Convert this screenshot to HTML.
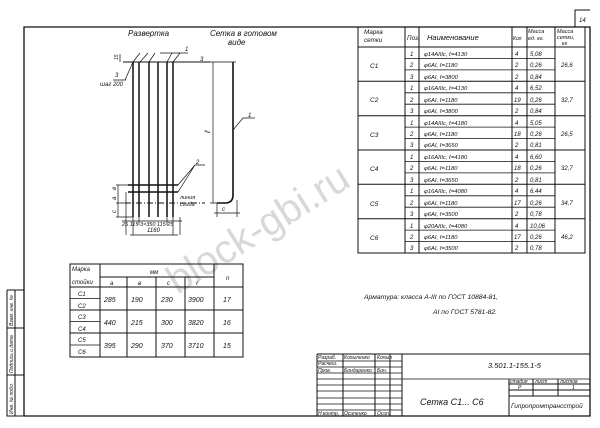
<!DOCTYPE html>
<html><head><meta charset="utf-8"><style>
html,body{margin:0;padding:0;background:#fff;}
svg{display:block;}
text{font-family:"Liberation Sans",sans-serif;font-style:italic;fill:#111;}
</style></head><body>
<svg width="600" height="428" viewBox="0 0 600 428" xmlns="http://www.w3.org/2000/svg">
<rect width="600" height="428" fill="#fff"/>
<!-- watermark -->
<text x="265" y="240" font-size="40" transform="rotate(-32 265 240)" text-anchor="middle" style="fill:#d8d8d8;font-style:normal">block-gbi.ru</text>
<g stroke="#111" fill="none" stroke-width="1">
<!-- frame -->
<path d="M24 27 H590 V416 H24 Z" stroke-width="1.3"/>
<path d="M575 27 V10 H590"/>
<path d="M7 290 H24 M7 290 V416 H24 M15 290 V416 M7 328 H24 M7 375 H24"/>
<!-- main table -->
<path d="M358 27 V253 H585 V27"/>
<path d="M405 27 V253 M419 27 V253 M512 27 V253 M527 27 V253 M555 27 V253"/>
<path d="M358 47 H585"/>
<g stroke-width="0.8">
<path d="M405 58.4 H555 M405 69.9 H555 M405 92.8 H555 M405 104.2 H555 M405 127.1 H555 M405 138.6 H555 M405 161.4 H555 M405 172.9 H555 M405 195.8 H555 M405 207.2 H555 M405 230.1 H555 M405 241.6 H555"/>
</g>
<path d="M358 81.3 H585 M358 115.7 H585 M358 150 H585 M358 184.3 H585 M358 218.7 H585"/>
<!-- lower left table -->
<path d="M70 264 H243 V357 H70 Z"/>
<path d="M100 264 V357 M214 264 V357 M127 277 V357 M156 277 V357 M185 277 V357"/>
<path d="M100 277 H214 M70 287 H243 M70 310 H243 M70 333 H243"/>
<path d="M70 298.5 H100 M70 321.5 H100 M70 345 H100" stroke-width="0.8"/>
<!-- title block -->
<path d="M317 354 H590 M317 354 V416"/>
<path d="M343 354 V416 M375 354 V416 M390 354 V416 M402 354 V416"/>
<path d="M317 361 H402 M317 367 H402 M317 373 H402 M317 379 H590 M317 385 H402 M317 391 H402 M317 398 H402 M317 404 H402 M317 410 H402" stroke-width="0.7"/>
<path d="M509 379 V416 M509 384 H590 M509 390 H590 M509 396 H590 M533 379 V396 M558 379 V396"/>
<!-- drawing: razvertka -->
<path d="M133 62 V217 M139 62 V217 M149 62 V217 M158 62 V217 M167 62 V217 M173 62 V217" stroke-width="1.5"/>
<path d="M123 62 H210"/>
<path d="M128 185 H178 M128 192 H178" stroke-width="1.5"/>
<path d="M125 203 H205" stroke-dasharray="6 2 1 2"/>
<path d="M126 192 V235 M133 217 V235 M139 217 V225 M167 217 V225 M173 217 V235 M180 217 V235" stroke-width="0.7"/>
<path d="M122 221 H182 M130 235 H178" stroke-width="0.7"/>
<path d="M118 185 V217 M116 185 H128 M116 203 H128 M116 217 H133" stroke-width="0.7"/>
<path d="M140 53 L133 62 M148 53 L140 62 M160 53 H188 M155 53 L149 62 M180 53 L173 62 M172 53 L167 62" stroke-width="0.7"/>
<path d="M125 80 L133 62 M113 80 H126" stroke-width="0.7"/>
<path d="M120 54 V62" stroke-width="0.7"/>
<path d="M178 185 L195 165 H205 M178 192 L195 165" stroke-width="0.7"/>
<!-- bent view -->
<path d="M213 62 V203" stroke-width="0.7"/>
<path d="M210 62 H236 M210 203 H222" stroke-width="0.7"/>
<path d="M233 62 V195 Q233 203 225 203 H217" stroke-width="1.6"/>
<path d="M233 130 L243 118 H255" stroke-width="0.7"/>
<path d="M217 203 V217 M237 200 V217 M214 213 H240" stroke-width="0.7"/>
</g>
<!-- labels drawing -->
<text x="128" y="36" font-size="8">Развертка</text>
<text x="210" y="36" font-size="8">Сетка в готовом</text>
<text x="228" y="45" font-size="8">виде</text>
<text x="185" y="51" font-size="6">1</text>
<text x="200" y="61" font-size="6">3</text>
<text x="115" y="77" font-size="6">3</text>
<text x="100" y="86" font-size="6">шаг 200</text>
<text x="118" y="60" font-size="5" transform="rotate(-90 118 60)">15</text>
<text x="210" y="133" font-size="8" transform="rotate(-90 210 133)">ℓ</text>
<text x="248" y="117" font-size="6">1</text>
<text x="196" y="164" font-size="6">2</text>
<text x="180" y="199" font-size="5.5">линия</text>
<text x="180" y="206" font-size="5.5">сгиба</text>
<text x="116" y="200" font-size="6" transform="rotate(-90 116 200)">a</text>
<text x="116" y="190" font-size="6" transform="rotate(-90 116 190)">в</text>
<text x="116" y="213" font-size="6" transform="rotate(-90 116 213)">c</text>
<text x="222" y="211" font-size="6">c</text>
<text x="122" y="226" font-size="5.5">25 115 3×350 115 25</text>
<text x="147" y="232" font-size="6">1160</text>
<!-- main table text -->
<g font-size="6.3">
<text x="364" y="34">Марка</text><text x="364" y="42">сетки</text>
<text x="407" y="40">Поз.</text>
<text x="427" y="40" font-size="7.5">Наименование</text>
<text x="513" y="40" font-size="5">Кол</text>
<text x="528" y="33" font-size="5.5">Масса</text><text x="528" y="40" font-size="5.5">ед. кг.</text>
<text x="557" y="33" font-size="5.5">Масса</text><text x="557" y="39" font-size="5.5">сетки,</text><text x="562" y="45" font-size="5.5">кг</text>
</g>
<g font-size="6.5">
<text x="370" y="68">С1</text><text x="370" y="102">С2</text><text x="370" y="137">С3</text><text x="370" y="171">С4</text><text x="370" y="206">С5</text><text x="370" y="240">С6</text>
<g font-size="6">
<text x="410" y="56">1</text><text x="410" y="67">2</text><text x="410" y="79">3</text>
<text x="410" y="90">1</text><text x="410" y="102">2</text><text x="410" y="113">3</text>
<text x="410" y="125">1</text><text x="410" y="136">2</text><text x="410" y="147">3</text>
<text x="410" y="159">1</text><text x="410" y="170">2</text><text x="410" y="182">3</text>
<text x="410" y="193">1</text><text x="410" y="205">2</text><text x="410" y="216">3</text>
<text x="410" y="228">1</text><text x="410" y="239">2</text><text x="410" y="250">3</text>
</g>
<g font-size="5.8">
<text x="424" y="56">φ14АIIIс, ℓ=4130</text><text x="424" y="67">φ6АI,  ℓ=1180</text><text x="424" y="79">φ6АI,  ℓ=3800</text>
<text x="424" y="90">φ16АIIIс, ℓ=4130</text><text x="424" y="102">φ6АI,  ℓ=1180</text><text x="424" y="113">φ6АI,  ℓ=3800</text>
<text x="424" y="125">φ14АIIIс, ℓ=4180</text><text x="424" y="136">φ6АI, ℓ=1180</text><text x="424" y="147">φ6АI, ℓ=3650</text>
<text x="424" y="159">φ16АIIIс, ℓ=4180</text><text x="424" y="170">φ6АI, ℓ=1180</text><text x="424" y="182">φ6АI, ℓ=3650</text>
<text x="424" y="193">φ16АIIIс, ℓ=4080</text><text x="424" y="205">φ6АI, ℓ=1180</text><text x="424" y="216">φ6АI, ℓ=3500</text>
<text x="424" y="228">φ20АIIIс, ℓ=4080</text><text x="424" y="239">φ6АI, ℓ=1180</text><text x="424" y="250">φ6АI, ℓ=3500</text>
</g>
<g font-size="6">
<text x="515" y="56">4</text><text x="515" y="67">2</text><text x="515" y="79">2</text>
<text x="515" y="90">4</text><text x="514" y="102">19</text><text x="515" y="113">2</text>
<text x="515" y="125">4</text><text x="514" y="136">18</text><text x="515" y="147">2</text>
<text x="515" y="159">4</text><text x="514" y="170">18</text><text x="515" y="182">2</text>
<text x="515" y="193">4</text><text x="514" y="205">17</text><text x="515" y="216">2</text>
<text x="515" y="228">4</text><text x="514" y="239">17</text><text x="515" y="250">2</text>
<text x="530" y="56">5,08</text><text x="530" y="67">0,26</text><text x="530" y="79">0,84</text>
<text x="530" y="90">6,52</text><text x="530" y="102">0,26</text><text x="530" y="113">0,84</text>
<text x="530" y="125">5,05</text><text x="530" y="136">0,26</text><text x="530" y="147">0,81</text>
<text x="530" y="159">6,60</text><text x="530" y="170">0,26</text><text x="530" y="182">0,81</text>
<text x="530" y="193">6,44</text><text x="530" y="205">0,26</text><text x="530" y="216">0,78</text>
<text x="530" y="228">10,06</text><text x="530" y="239">0,26</text><text x="530" y="250">0,78</text>
<text x="561" y="67">26,6</text><text x="561" y="102">32,7</text><text x="561" y="136">26,5</text>
<text x="561" y="170">32,7</text><text x="561" y="205">34,7</text><text x="561" y="239">46,2</text>
</g>
</g>
<text x="579" y="22" font-size="6">14</text>
<!-- lower table text -->
<g font-size="6">
<text x="72" y="271">Марка</text><text x="72" y="284">стойки</text>
<text x="150" y="274">мм</text>
<text x="110" y="285">a</text><text x="138" y="285">в</text><text x="167" y="285">c</text><text x="196" y="285">ℓ</text>
<text x="226" y="280">n</text>
<text x="78" y="296">С1</text><text x="78" y="308">С2</text>
<text x="78" y="319">С3</text><text x="78" y="331">С4</text>
<text x="78" y="342">С5</text><text x="78" y="354">С6</text>
<g font-size="7">
<text x="104" y="302">285</text><text x="131" y="302">190</text><text x="161" y="302">230</text><text x="188" y="302">3900</text><text x="223" y="302">17</text>
<text x="104" y="325">440</text><text x="131" y="325">215</text><text x="161" y="325">300</text><text x="188" y="325">3820</text><text x="223" y="325">16</text>
<text x="104" y="348">395</text><text x="131" y="348">290</text><text x="161" y="348">370</text><text x="188" y="348">3710</text><text x="223" y="348">15</text>
</g>
</g>
<text x="364" y="299" font-size="6.8">Арматура: класса А-III по ГОСТ 10884-81,</text>
<text x="433" y="314" font-size="6.8">АI по ГОСТ 5781-82.</text>
<!-- stamp left -->
<g font-size="5">
<text x="13" y="414" transform="rotate(-90 13 414)">Инв. № подл.</text>
<text x="13" y="373" transform="rotate(-90 13 373)">Подпись и дата</text>
<text x="13" y="326" transform="rotate(-90 13 326)">Взам. инв. №</text>
</g>
<!-- title block text -->
<g font-size="5">
<text x="318" y="359">Разраб.</text><text x="344" y="359">Копыленко</text><text x="377" y="359">Копыл</text>
<text x="318" y="365">Расчеш.</text>
<text x="318" y="372">Пров.</text><text x="344" y="372">Бондаренко</text><text x="377" y="372">Бон.</text>
<text x="318" y="415">Н.контр.</text><text x="344" y="415">Осипенко</text><text x="377" y="415">Осип.</text>
<text x="510" y="383">стадия</text><text x="535" y="383">лист</text><text x="560" y="383">листов</text>
<text x="518" y="389">Р</text><text x="572" y="389">1</text>
</g>
<text x="488" y="368" font-size="7.5">3.501.1-155.1-5</text>
<text x="420" y="405" font-size="9">Сетка  С1... С6</text>
<text x="511" y="408" font-size="6.5">Гипропромтрансстрой</text>
</svg>
</body></html>
